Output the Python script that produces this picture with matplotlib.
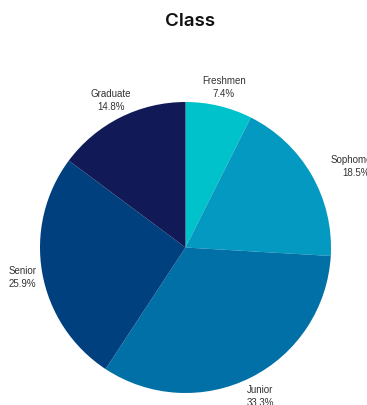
import matplotlib
matplotlib.use('Agg')
import matplotlib.pyplot as plt
from matplotlib import font_manager

# class breakdown, percent of students
classes = ['Freshmen', 'Sophomore', 'Junior', 'Senior', 'Graduate']
shares = [7.4, 18.5, 33.3, 25.9, 14.8]
colors = ['#00C2CB', '#0399C1', '#0170A7', '#01407F', '#111A57']

# plain (non-narrow) Liberation Sans for the slice labels
label_font = font_manager.FontProperties(family='Liberation Sans', size=7)
for f in font_manager.fontManager.ttflist:
    if (f.name == 'Liberation Sans' and f.style == 'normal'
            and f.weight in (400, 'normal', 'regular') and 'Narrow' not in f.fname):
        label_font = font_manager.FontProperties(fname=f.fname, size=7)
        break

fig = plt.figure(figsize=(3.67, 4.06), dpi=100)
fig.patch.set_facecolor('white')

# pie sits a bit below centre, title on top
ax = fig.add_axes([40 / 367, 12 / 406, 291 / 367, 291 / 406])
labels = [f'{c}\n{s}%' for c, s in zip(classes, shares)]
wedges, texts = ax.pie(shares, labels=labels, colors=colors, startangle=90,
                       counterclock=False, labeldistance=1.14,
                       wedgeprops={'linewidth': 0},
                       textprops={'color': '#333333'})
for t in texts:
    t.set_fontproperties(label_font)
    t.set_ha('center')
    t.set_va('center')
    t.set_linespacing(1.4)
    t.set_clip_on(False)
# the long Sophomore label is pushed further out
texts[1].set_position((1.172, 0.564))
ax.set_xlim(-1, 1)
ax.set_ylim(-1, 1)
ax.set_aspect('equal')

fig.text(190 / 367, 1 - 21 / 406, 'Class', ha='center', va='center',
         fontsize=13.5, fontweight='semibold', family='Inter', color='#111111')

plt.savefig('out.png', dpi=100, facecolor='white')
plt.close(fig)
